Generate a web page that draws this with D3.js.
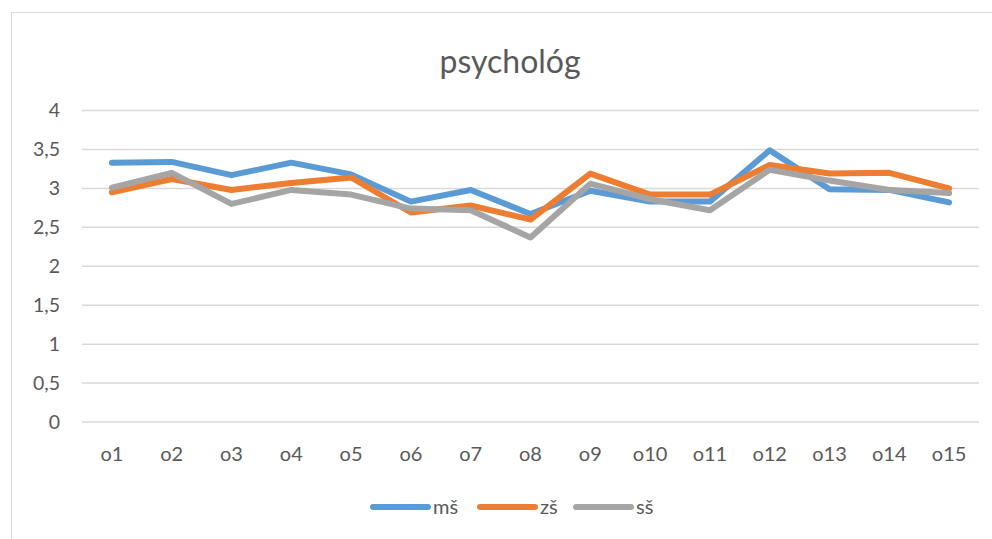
<!DOCTYPE html>
<html>
<head>
<meta charset="utf-8">
<script src="https://cdn.jsdelivr.net/npm/d3@7"></script>
<style>
  body { margin: 0; background: #fff; }
  svg { display: block; font-family: Lato, "Open Sans", sans-serif; }
</style>
</head>
<body>
<svg></svg>
<script>
const categories = ["o1","o2","o3","o4","o5","o6","o7","o8","o9","o10","o11","o12","o13","o14","o15"]
const ms = [3.33,3.34,3.17,3.33,3.18,2.83,2.98,2.67,2.97,2.83,2.83,3.49,2.99,2.98,2.82]
const zs = [2.95,3.12,2.98,3.07,3.14,2.69,2.78,2.60,3.19,2.92,2.92,3.30,3.19,3.20,3.00]
const ss = [3.01,3.20,2.80,2.98,2.92,2.74,2.72,2.37,3.06,2.86,2.72,3.24,3.10,2.98,2.94]
const yTicks = [0,0.5,1,1.5,2,2.5,3,3.5,4]
const seriesNames = ["mš","zš","sš"]
const colors = ["#5B9BD5","#ED7D31","#A5A5A5"]

const width = 992
const height = 539
const svg = d3.select('svg')
    .attr("width", width)
    .attr("height", height)

// chart frame
svg.append("rect")
    .attr("x", 11.5).attr("y", 12.5)
    .attr("width", 1000).attr("height", 600)
    .attr("fill", "#fff")
    .attr("stroke", "#d9d9d9")

svg.append("text")
    .attr("x", 510).attr("y", 73)
    .attr("text-anchor", "middle")
    .attr("font-size", 32)
    .attr("fill", "#595959")
    .text("psychológ")

const x = d3.scaleBand()
    .domain(categories)
    .range([82, 979])

const y = d3.scaleLinear()
    .domain([0, 4])
    .range([422, 110.5])

// gridlines
svg.append("g")
    .selectAll("line")
    .data(yTicks)
    .enter()
    .append("line")
    .attr("x1", 82).attr("x2", 979)
    .attr("y1", d => y(d)).attr("y2", d => y(d))
    .attr("stroke", "#d9d9d9")
    .attr("stroke-width", 1.5)

// y labels
svg.append("g")
    .selectAll("text")
    .data(yTicks)
    .enter()
    .append("text")
    .attr("x", 60)
    .attr("y", d => y(d))
    .attr("dy", "0.35em")
    .attr("text-anchor", "end")
    .attr("font-size", 19.5)
    .attr("fill", "#595959")
    .text(d => String(d).replace(".", ","))

// x labels
svg.append("g")
    .selectAll("text")
    .data(categories)
    .enter()
    .append("text")
    .attr("x", d => x(d) + x.bandwidth() / 2)
    .attr("y", 461)
    .attr("text-anchor", "middle")
    .attr("font-size", 20)
    .attr("fill", "#595959")
    .text(d => d)

const line = d3.line()
    .x((d, i) => x(categories[i]) + x.bandwidth() / 2)
    .y(d => y(d))

const series = [ms, zs, ss]
series.forEach((s, i) => {
    svg.append("path")
        .datum(s)
        .attr("d", line)
        .attr("fill", "none")
        .attr("stroke", colors[i])
        .attr("stroke-width", 6)
        .attr("stroke-linejoin", "round")
        .attr("stroke-linecap", "round")
})

// legend
const legendX = [373, 480, 576]
const legend = svg.append("g")
    .selectAll("g")
    .data(seriesNames)
    .enter()
    .append("g")
    .attr("transform", (d, i) => `translate(${legendX[i]},507)`)

legend.append("line")
    .attr("x1", 0).attr("x2", 55)
    .attr("stroke", (d, i) => colors[i])
    .attr("stroke-width", 6)
    .attr("stroke-linecap", "round")

legend.append("text")
    .attr("x", 60)
    .attr("dy", "0.35em")
    .attr("font-size", 20)
    .attr("fill", "#595959")
    .text(d => d)
</script>
</body>
</html>
